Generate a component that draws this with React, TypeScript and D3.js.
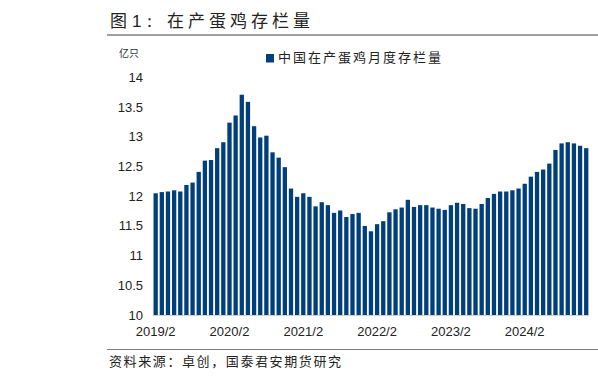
import React from 'react';
import * as d3 from 'd3';

// monthly stock of laying hens, 2019/2 .. 2024/12 (亿只)
const values = [
  12.05, 12.07, 12.08, 12.10, 12.08, 12.19, 12.23, 12.41, 12.60, 12.61, 12.81, 12.91,
  13.24, 13.36, 13.71, 13.59, 13.18, 12.99, 13.02, 12.74, 12.65, 12.49, 12.13, 11.99,
  12.05, 11.99, 11.83, 11.90, 11.85, 11.72, 11.76, 11.65, 11.70, 11.72, 11.50, 11.41,
  11.53, 11.58, 11.73, 11.78, 11.81, 11.94, 11.82, 11.85, 11.85, 11.81, 11.79, 11.77,
  11.85, 11.89, 11.87, 11.80, 11.79, 11.87, 11.97, 12.04, 12.08, 12.08, 12.10, 12.13,
  12.21, 12.33, 12.41, 12.45, 12.55, 12.78, 12.89, 12.91, 12.89, 12.85, 12.81,
];

const months: string[] = [];
for (let i = 0; i < values.length; i++) {
  const m = (i + 1) % 12 + 1;
  const y = 2019 + Math.floor((i + 1) / 12);
  months.push(`${y}/${m}`);
}

const xLabels = ['2019/2', '2020/2', '2021/2', '2022/2', '2023/2', '2024/2'];
const yTicks = [10, 10.5, 11, 11.5, 12, 12.5, 13, 13.5, 14];

const titleFig = '图';
const titleNo = '1：';
const titleMain = '在产蛋鸡存栏量';
const unit = '亿只';
const seriesName = '中国在产蛋鸡月度存栏量';
const source = '资料来源：卓创，国泰君安期货研究';

const barColor = '#003f7b';
const cjk = '"Noto Sans CJK SC", "Noto Sans", sans-serif';
const num = '"Liberation Sans", Arial, sans-serif';

export default function App() {
  const x = d3.scaleBand<string>()
    .domain(months)
    .range([152.6, 589.3])
    .paddingInner(0.3)
    .paddingOuter(0.15);
  const y = d3.scaleLinear().domain([10, 14]).range([315, 77.5]);

  return (
    <svg width={598} height={385} style={{ position: 'absolute', left: 0, top: 0 }}>
      <rect width={598} height={385} fill="#fff" />
      <text x={110} y={27} fontFamily={cjk} fontSize={17} fill="#222">{titleFig}</text>
      <text x={132} y={27} fontFamily={num} fontSize={17} fill="#222">{titleNo}</text>
      <text x={167} y={27} fontFamily={cjk} fontSize={17} fill="#222" letterSpacing={4}>{titleMain}</text>
      <line x1={107} x2={598} y1={35} y2={35} stroke="#7f7f7f" strokeWidth={1.5} />

      <text x={129} y={57} textAnchor="middle" fontFamily={cjk} fontSize={10} fill="#333">{unit}</text>

      <rect x={266} y={54} width={8} height={8.5} fill={barColor} />
      <text x={278} y={62} fontFamily={cjk} fontSize={13} fill="#222" letterSpacing={2}>{seriesName}</text>

      {yTicks.map(t => (
        <text key={t} x={143} y={y(t)} dy="0.35em" textAnchor="end" fontFamily={num} fontSize={13} fill="#222">
          {t}
        </text>
      ))}

      {values.map((v, i) => (
        <rect
          key={months[i]}
          x={x(months[i])}
          y={y(v)}
          width={x.bandwidth()}
          height={y(10) - y(v)}
          fill={barColor}
        />
      ))}

      <line x1={152.6} x2={589.3} y1={315.5} y2={315.5} stroke="#d0d0d0" strokeWidth={1} />

      {xLabels.map(l => (
        <text key={l} x={(x(l) ?? 0) + x.bandwidth() / 2} y={336} textAnchor="middle" fontFamily={num} fontSize={13} fill="#222">
          {l}
        </text>
      ))}

      <line x1={107} x2={598} y1={349.5} y2={349.5} stroke="#7f7f7f" strokeWidth={1} />
      <text x={109} y={366} fontFamily={cjk} fontSize={13} fill="#222" letterSpacing={1.6}>{source}</text>
    </svg>
  );
}
